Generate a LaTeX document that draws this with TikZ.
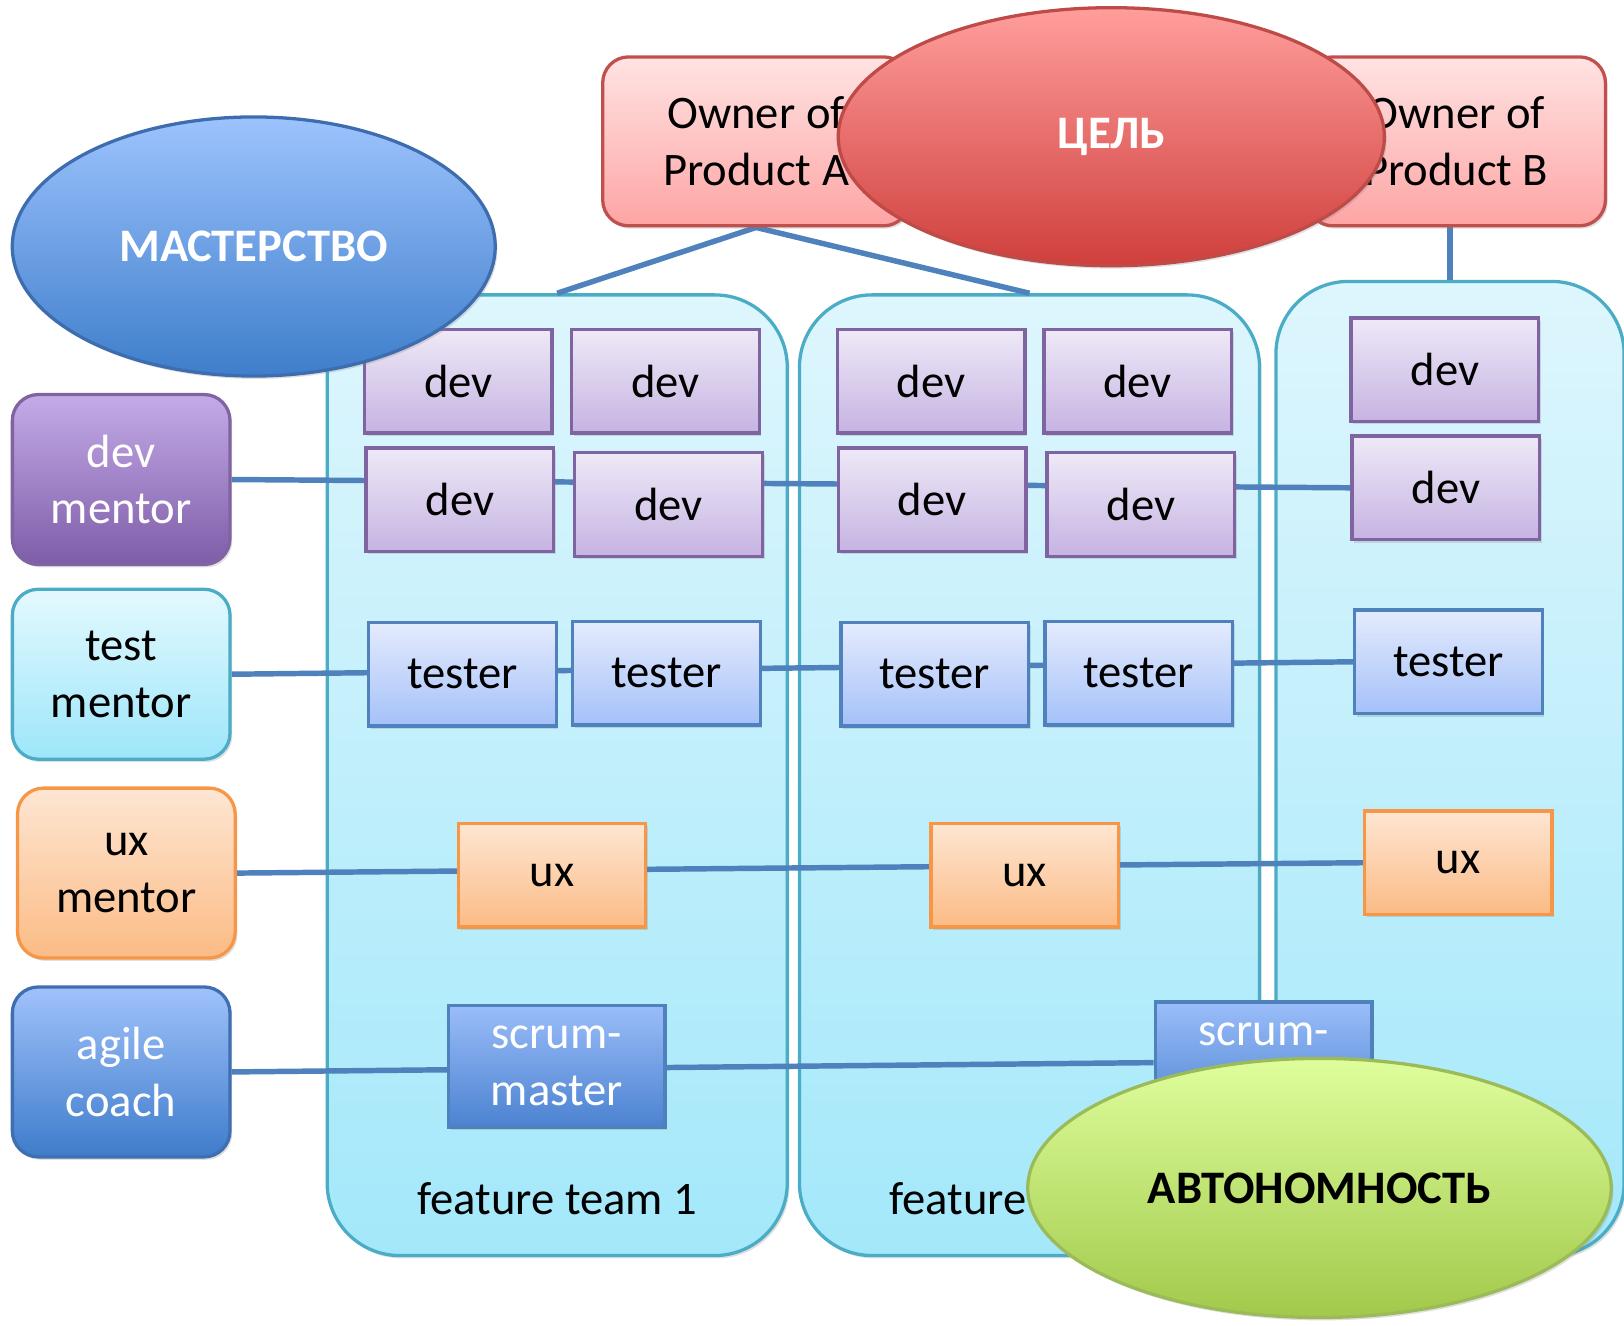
\documentclass[tikz,border=0pt]{standalone}
\usepackage{fontspec}
\setmainfont{Carlito}
\usepackage{tikz}
\usetikzlibrary{shapes.geometric,shadows}
\definecolor{TeamTop}{HTML}{DEF6FD}\definecolor{TeamBot}{HTML}{A3E8FA}\definecolor{TeamEdge}{HTML}{4BACC6}
\definecolor{DevTop}{HTML}{EEE9F7}\definecolor{DevBot}{HTML}{C6B3E2}\definecolor{DevEdge}{HTML}{8064A2}
\definecolor{DevMTop}{HTML}{C4ABE8}\definecolor{DevMBot}{HTML}{7E5DA8}
\definecolor{TestTop}{HTML}{E4EBFD}\definecolor{TestBot}{HTML}{A5C1F9}\definecolor{TestEdge}{HTML}{4F81BD}
\definecolor{TestMTop}{HTML}{E4F9FE}\definecolor{TestMBot}{HTML}{9DE6FA}
\definecolor{UxTop}{HTML}{FEE6D3}\definecolor{UxBot}{HTML}{FBBB85}\definecolor{UxEdge}{HTML}{F79646}
\definecolor{SmTop}{HTML}{9ABDF9}\definecolor{SmBot}{HTML}{4B82D0}
\definecolor{AgTop}{HTML}{A0C2FB}\definecolor{AgBot}{HTML}{3E7CCB}\definecolor{AgEdge}{HTML}{3F6FB0}
\definecolor{OwnTop}{HTML}{FFE3E3}\definecolor{OwnBot}{HTML}{FDA5A4}\definecolor{OwnEdge}{HTML}{C0504D}
\definecolor{GoalTop}{HTML}{FF9E9C}\definecolor{GoalBot}{HTML}{CF3F3C}\definecolor{GoalEdge}{HTML}{BE4B48}
\definecolor{MastTop}{HTML}{9DC3FD}\definecolor{MastBot}{HTML}{3E7ECB}\definecolor{MastEdge}{HTML}{3D6DAE}
\definecolor{AutoTop}{HTML}{DEFE9C}\definecolor{AutoBot}{HTML}{A2C94B}\definecolor{AutoEdge}{HTML}{9BBB59}
\definecolor{LineBlue}{HTML}{4F81BD}
\newcommand{\lblsize}{\fontsize{12.8}{15.6}\selectfont}
\pgfdeclarelayer{back}\pgfdeclarelayer{links}
\pgfsetlayers{back,links,main}

\begin{document}
\begin{tikzpicture}[x=0.01cm,y=-0.01cm,font=\lblsize,
  sh/.style={drop shadow={shadow xshift=0.6pt,shadow yshift=-0.8pt,opacity=0.25}},
  team/.style={draw=TeamEdge,line width=0.9pt,rounded corners=0.7cm,top color=TeamTop,bottom color=TeamBot,minimum width=4.44cm,minimum height=9.27cm,inner sep=0pt,sh},
  role/.style={rectangle,line width=0.9pt,minimum width=1.81cm,minimum height=1cm,inner sep=0pt,sh},
  devbox/.style={role,draw=DevEdge,top color=DevTop,bottom color=DevBot},
  testbox/.style={role,draw=TestEdge,top color=TestTop,bottom color=TestBot},
  uxbox/.style={role,draw=UxEdge,top color=UxTop,bottom color=UxBot},
  smbox/.style={role,draw=TestEdge,top color=SmTop,bottom color=SmBot,text=white,align=center,minimum width=2.09cm,minimum height=1.17cm},
  mentor/.style={rectangle,rounded corners=0.25cm,line width=0.9pt,minimum width=2.1cm,minimum height=1.64cm,inner sep=0pt,align=center,sh},
  owner/.style={rectangle,rounded corners=0.25cm,line width=0.9pt,draw=OwnEdge,top color=OwnTop,bottom color=OwnBot,minimum height=1.63cm,inner sep=0pt,align=center,sh},
  bubble/.style={ellipse,line width=0.9pt,inner sep=0pt,font=\lblsize\bfseries,sh},
  link/.style={draw=LineBlue,line width=1.5pt}]
\useasboundingbox (0,0) rectangle (1568,1280);
% feature teams
\begin{pgfonlayer}{back}
  \node[team] (team1) at (538,748.5) {};
  \node[team] (team2) at (994,748.5) {};
  \node[team,minimum width=3.36cm,minimum height=9.4cm] (team3) at (1400,742) {};
\end{pgfonlayer}
% product owners
\node[owner,minimum width=2.96cm] (ownA) at (730,136.5) {Owner of\\Product A};
\node[owner,minimum width=2.88cm] (ownB) at (1406,136.5) {Owner of\\Product B};
% devs
\node[devbox] (d11) at (442.5,368) {dev};
\node[devbox] (d12) at (642.5,368) {dev};
\node[devbox] (d13) at (899,368) {dev};
\node[devbox] (d14) at (1098.5,368) {dev};
\node[devbox] (d15) at (1395,357) {dev};
\node[devbox] (d21) at (444,482.5) {dev};
\node[devbox] (d22) at (645.5,487) {dev};
\node[devbox] (d23) at (900,482.5) {dev};
\node[devbox] (d24) at (1101.5,487) {dev};
\node[devbox] (d25) at (1396,471) {dev};
% testers
\node[testbox] (t1) at (446.5,651) {tester};
\node[testbox] (t2) at (643.5,650) {tester};
\node[testbox] (t3) at (902.5,651) {tester};
\node[testbox] (t4) at (1099.5,650) {tester};
\node[testbox] (t5) at (1398.5,639) {tester};
% ux
\node[uxbox] (u1) at (533,845) {ux};
\node[uxbox] (u2) at (989.5,845) {ux};
\node[uxbox] (u3) at (1408,833) {ux};
% scrum-masters
\node[smbox] (s1) at (537.5,1029.5) {scrum-\\master};
\node[smbox] (s2) at (1220,1026) {scrum-\\master};
% mentors
\node[mentor,draw=DevEdge,top color=DevMTop,bottom color=DevMBot,text=white] (devm) at (117,463) {dev\\mentor};
\node[mentor,draw=TeamEdge,top color=TestMTop,bottom color=TestMBot] (testm) at (117,651) {test\\mentor};
\node[mentor,draw=UxEdge,top color=UxTop,bottom color=UxBot] (uxm) at (122,843) {ux\\mentor};
\node[mentor,draw=AgEdge,top color=AgTop,bottom color=AgBot,text=white] (agile) at (117,1035) {agile\\coach};
% team labels
\node (lab1) at (538,1157) {feature team 1};
\node (lab2) at (994,1157) {feature team 2};
% links
\begin{pgfonlayer}{links}
  \draw[link] (ownA.south) -- (team1.north);
  \draw[link] (ownA.south) -- (team2.north);
  \draw[link] (ownB.south -| team3.north) -- (team3.north);
  \draw[link] (devm.east) -- (d25.west);
  \draw[link] (testm.east) -- (t5.west);
  \draw[link] (uxm.east) -- (u3.west);
  \draw[link] (agile.east) -- (s2.west);
\end{pgfonlayer}
% bubbles
\node[bubble,draw=MastEdge,top color=MastTop,bottom color=MastBot,text=white,minimum width=4.66cm,minimum height=2.5cm] (mast) at (245,238) {МАСТЕРСТВО};
\node[bubble,draw=GoalEdge,top color=GoalTop,bottom color=GoalBot,text=white,minimum width=5.27cm,minimum height=2.49cm] (goal) at (1073,132) {ЦЕЛЬ};
\node[bubble,draw=AutoEdge,top color=AutoTop,bottom color=AutoBot,minimum width=5.63cm,minimum height=2.5cm] (auto) at (1274,1147) {АВТОНОМНОСТЬ};
\end{tikzpicture}
\end{document}
